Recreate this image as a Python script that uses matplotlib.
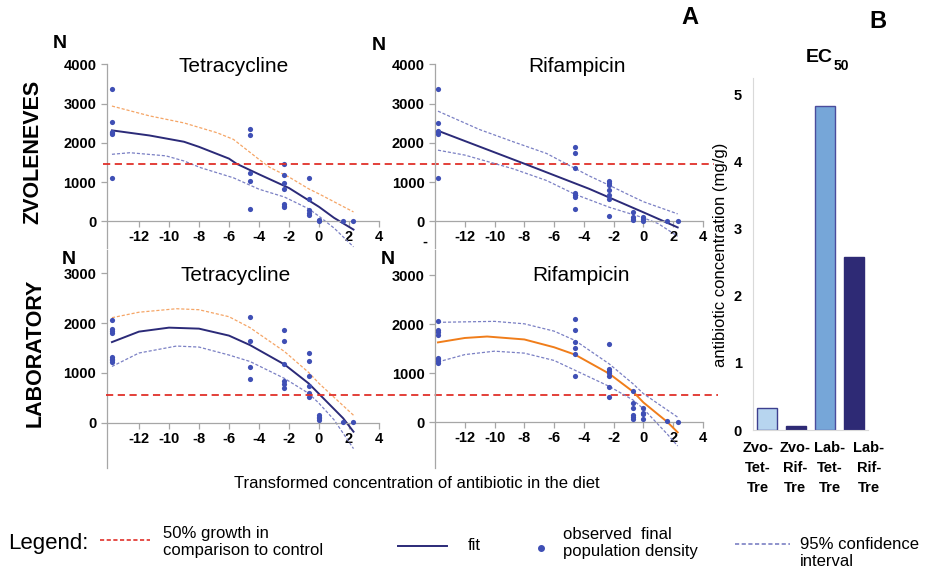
import numpy as np
import matplotlib
matplotlib.use('Agg')
import matplotlib.pyplot as plt
import matplotlib.transforms as mtransforms
from matplotlib.lines import Line2D

plt.rcParams['font.family'] = ['Liberation Sans', 'DejaVu Sans']

W, H = 925, 573

# ln-transformed antibiotic concentrations (control plotted at -13.8)
conc = [-13.8, -4.6, -2.3, -0.69, 0, 1.61, 2.3]

# --- Zvoleneves, tetracycline ---
zvo_tet_obs = [[3380, 2530, 2290, 2250, 2220, 1110],
               [2360, 2200, 1240, 1020, 320],
               [1450, 1190, 990, 830, 430, 390, 360],
               [1110, 570, 290, 220, 170],
               [30, 0], [0], [0]]
zvo_tet_fit_x = [-13.8, -11.3, -9, -8, -6, -5.5, -4, -2, 0, 1, 2.3]
zvo_tet_fit_y = [2320, 2190, 2030, 1900, 1600, 1470, 1200, 850, 370, 90, -210]
zvo_tet_up_x = [-13.8, -11.3, -9, -6.8, -5.7, -4, -3.3, -2, -0.69, 0, 2.3]
zvo_tet_up_y = [2940, 2690, 2510, 2260, 2090, 1580, 1380, 1130, 830, 700, 240]
zvo_tet_lo_x = [-13.8, -12.6, -10.2, -9, -7.9, -5.7, -4, -2.3, -0.69, 0, 1, 2.3]
zvo_tet_lo_y = [1710, 1750, 1670, 1540, 1370, 1110, 820, 620, 320, 130, -170, -650]

# --- Zvoleneves, rifampicin ---
zvo_rif_obs = [[3370, 2520, 2300, 2270, 2220, 1100],
               [1890, 1750, 1360, 720, 670, 620, 320],
               [1030, 970, 920, 800, 670, 580, 130],
               [240, 100, 60, 30],
               [100, 50, 20], [0], [0]]
zvo_rif_fit_x = [-13.8, -8, -3.65, 0, 2.3]
zvo_rif_fit_y = [2310, 1470, 830, 230, -155]
zvo_rif_up_x = [-13.8, -11, -8.75, -6.5, -3.65, -2.3, -1, 0, 2.3]
zvo_rif_up_y = [2810, 2340, 2030, 1730, 1160, 920, 680, 500, 190]
zvo_rif_lo_x = [-13.8, -12, -8.75, -6.5, -4.6, -2.3, 0, 1, 2.3]
zvo_rif_lo_y = [1815, 1690, 1340, 1040, 690, 360, 90, -60, -380]

# --- Laboratory, tetracycline ---
lab_tet_obs = [[2070, 1890, 1840, 1810, 1320, 1290, 1260, 1220],
               [2120, 1640, 1110, 870],
               [1870, 1640, 1170, 830, 780, 700],
               [1400, 1230, 940, 730, 590, 520],
               [150, 120, 90, 50], [20], [10]]
lab_tet_fit_x = [-13.8, -12, -10, -8, -6, -4.6, -2.3, -0.69, 0, 1.61, 2.3]
lab_tet_fit_y = [1620, 1830, 1910, 1890, 1750, 1560, 1170, 790, 580, 90, -180]
lab_tet_up_x = [-13.8, -12, -9.5, -8, -6, -4.6, -2.3, -0.69, 0, 2.3]
lab_tet_up_y = [2110, 2220, 2290, 2270, 2130, 1910, 1430, 1010, 790, 150]
lab_tet_lo_x = [-13.8, -12, -9.5, -8, -6, -4.6, -2.3, -0.69, 0, 1, 2.3]
lab_tet_lo_y = [1130, 1400, 1540, 1520, 1360, 1230, 890, 590, 390, 60, -520]

# --- Laboratory, rifampicin ---
lab_rif_obs = [[2060, 1880, 1840, 1790, 1320, 1280, 1250, 1210],
               [2100, 1880, 1640, 1510, 1390, 940],
               [1590, 1090, 1050, 1010, 940, 720, 510],
               [640, 380, 290, 150, 100, 60],
               [290, 190, 160, 70], [20], [10]]
lab_rif_fit_x = [-13.8, -12, -10.5, -8, -6, -4.6, -2.3, -0.69, 0, 1.61, 2.3]
lab_rif_fit_y = [1630, 1720, 1750, 1690, 1530, 1380, 990, 620, 400, 0, -210]
lab_rif_up_x = [-13.8, -12, -10, -8, -6, -4.6, -2.3, -0.69, 0, 2.3]
lab_rif_up_y = [2040, 2050, 2060, 2010, 1860, 1670, 1190, 780, 580, 100]
lab_rif_lo_x = [-13.8, -12, -10, -8, -6, -4.6, -2.3, -0.69, 0, 1.61, 2.3]
lab_rif_lo_y = [1230, 1380, 1450, 1410, 1260, 1060, 730, 450, 270, -250, -490]

# 50% growth thresholds
zvo_half = 1470
lab_half = 565

# EC50 bars
ec50_labels = ['Zvo-\nTet-\nTre', 'Zvo-\nRif-\nTre', 'Lab-\nTet-\nTre', 'Lab-\nRif-\nTre']
ec50_values = [0.33, 0.06, 4.83, 2.58]

NAVY = '#2b2a78'
DOT = '#3f4fb5'
ORANGE = '#f07d1a'
ORANGE_CI = '#f5a566'
BLUE_CI = '#7b80c4'
RED = '#e0302a'
GRAY = '#a6a6a6'


def fx(x):
    return x / W


def fy(y):
    return 1 - y / H


def add_ax(left, right, top, bottom):
    return fig.add_axes([fx(left), fy(bottom), (right - left) / W, (bottom - top) / H])


def style_panel(ax, xlim, ylim, yticks):
    ax.set_xlim(xlim)
    ax.set_ylim(ylim)
    ax.patch.set_alpha(0)
    ax.spines['top'].set_visible(False)
    ax.spines['right'].set_visible(False)
    ax.spines['bottom'].set_position(('data', 0))
    for s in ['left', 'bottom']:
        ax.spines[s].set_color(GRAY)
        ax.spines[s].set_linewidth(0.9)
    xt = list(range(-12, 5, 2))
    ax.set_xticks(xt, [str(t) for t in xt], fontweight='bold', fontsize=10.5)
    ax.set_yticks(yticks, [str(t) for t in yticks], fontweight='bold', fontsize=10.5)
    ax.tick_params(color=GRAY, labelcolor='black', length=4, width=0.9)
    ax.tick_params(axis='x', pad=2.5)


def draw_panel(ax, obs, fit, up, lo, fit_color, up_color):
    xs, ys = [], []
    for c, vals in zip(conc, obs):
        xs += [c] * len(vals)
        ys += vals
    ax.plot(up[0], up[1], color=up_color, lw=0.9, dashes=(2.5, 1.5), zorder=2)
    ax.plot(lo[0], lo[1], color=BLUE_CI, lw=0.9, dashes=(2.5, 1.5), zorder=2)
    ax.plot(fit[0], fit[1], color=fit_color, lw=1.4, zorder=2)
    ax.scatter(xs, ys, s=14, color=DOT, linewidths=0, zorder=3)


fig = plt.figure(figsize=(W / 100, H / 100), dpi=100)

ax1 = add_ax(106.7, 379, 64.5, 248)
style_panel(ax1, (-14.15, 4), (-680, 4000), [0, 1000, 2000, 3000, 4000])
draw_panel(ax1, zvo_tet_obs, (zvo_tet_fit_x, zvo_tet_fit_y), (zvo_tet_up_x, zvo_tet_up_y),
           (zvo_tet_lo_x, zvo_tet_lo_y), NAVY, ORANGE_CI)

ax2 = add_ax(435, 703, 64.5, 248)
style_panel(ax2, (-14.0, 4), (-680, 4000), [0, 1000, 2000, 3000, 4000])
draw_panel(ax2, zvo_rif_obs, (zvo_rif_fit_x, zvo_rif_fit_y), (zvo_rif_up_x, zvo_rif_up_y),
           (zvo_rif_lo_x, zvo_rif_lo_y), NAVY, BLUE_CI)

ax3 = add_ax(106.7, 379, 250, 468)
style_panel(ax3, (-14.15, 4), (-910, 3470), [0, 1000, 2000, 3000])
draw_panel(ax3, lab_tet_obs, (lab_tet_fit_x, lab_tet_fit_y), (lab_tet_up_x, lab_tet_up_y),
           (lab_tet_lo_x, lab_tet_lo_y), NAVY, ORANGE_CI)

ax4 = add_ax(435, 703, 250, 468)
style_panel(ax4, (-14.0, 4), (-940, 3520), [0, 1000, 2000, 3000])
draw_panel(ax4, lab_rif_obs, (lab_rif_fit_x, lab_rif_fit_y), (lab_rif_up_x, lab_rif_up_y),
           (lab_rif_lo_x, lab_rif_lo_y), ORANGE, BLUE_CI)

# red 50% lines run across both panels of a row
for ax, yv, x0, x1 in [(ax1, zvo_half, 103, 714), (ax3, lab_half, 106, 718)]:
    tr = mtransforms.blended_transform_factory(fig.transFigure, ax.transData)
    ax.plot([fx(x0), fx(x1)], [yv, yv], transform=tr, color=RED, lw=1.3,
            dashes=(4, 2.5), clip_on=False, zorder=4)

# titles and labels
for x, y, t in [(234, 67, 'Tetracycline'), (577, 66, 'Rifampicin'),
                (236, 275, 'Tetracycline'), (581, 275, 'Rifampicin')]:
    fig.text(fx(x), fy(y), t, ha='center', va='center', fontsize=15)
for x, y in [(60, 43), (379, 45), (69, 259), (388, 260)]:
    fig.text(fx(x), fy(y), 'N', ha='center', va='center', fontsize=14, fontweight='bold')
fig.text(fx(425), fy(242), '-', ha='center', va='center', fontsize=10.5, fontweight='bold')
fig.text(fx(33), fy(152), 'ZVOLENEVES', rotation=90, ha='center', va='center',
         fontsize=15.5, fontweight='bold')
fig.text(fx(35), fy(353), 'LABORATORY', rotation=90, ha='center', va='center',
         fontsize=15.5, fontweight='bold')
fig.text(fx(417), fy(483), 'Transformed concentration of antibiotic in the diet',
         ha='center', va='center', fontsize=12)
fig.text(fx(690), fy(18), 'A', ha='center', va='center', fontsize=17, fontweight='bold')
fig.text(fx(878), fy(22), 'B', ha='center', va='center', fontsize=17, fontweight='bold')

# EC50 bar chart
axb = add_ax(753, 868, 78, 430)
xb = np.arange(len(ec50_values))
axb.bar(xb, ec50_values, width=0.7,
        color=['#b7d5ef', '#2e2a75', '#76a6d8', '#2e2a75'],
        edgecolor=['#3d3f8f', '#2e2a75', '#4a4c9c', '#2e2a75'], linewidth=1.0)
axb.set_xlim(-0.48, 3.48)
axb.set_ylim(0, 5.25)
axb.patch.set_alpha(0)
axb.spines['top'].set_visible(False)
axb.spines['right'].set_visible(False)
for s in ['left', 'bottom']:
    axb.spines[s].set_color('#d9d9d9')
axb.set_yticks(range(6), [str(v) for v in range(6)], fontweight='bold', fontsize=10.5)
axb.set_xticks(xb, ec50_labels, fontweight='bold', fontsize=10.5, linespacing=1.55)
axb.tick_params(axis='y', length=0, pad=8)
axb.tick_params(axis='x', length=0, pad=8)
for lab, dx in zip(axb.get_xticklabels(), [-9, -1, 5, 15]):
    lab.set_transform(lab.get_transform() + mtransforms.ScaledTranslation(dx / 100, 0, fig.dpi_scale_trans))
fig.text(fx(720), fy(255), 'antibiotic concentration (mg/g)', rotation=90,
         ha='center', va='center', fontsize=12)
fig.text(fx(833), fy(58), 'EC', ha='right', va='center', fontsize=14, fontweight='bold')
fig.text(fx(834), fy(66), '50', ha='left', va='center', fontsize=10, fontweight='bold')

# legend row
fig.text(fx(8), fy(543), 'Legend:', ha='left', va='center', fontsize=16)
fig.add_artist(Line2D([fx(100), fx(150)], [fy(540), fy(540)], color=RED, lw=1.2, dashes=(2.5, 1.5)))
fig.text(fx(163), fy(542), '50% growth in\ncomparison to control', ha='left', va='center', fontsize=12)
fig.add_artist(Line2D([fx(398), fx(447)], [fy(546), fy(546)], color=NAVY, lw=1.4))
fig.text(fx(468), fy(546), 'fit', ha='left', va='center', fontsize=12)
fig.add_artist(Line2D([fx(541)], [fy(548)], marker='o', markersize=4, color=DOT, lw=0))
fig.text(fx(563), fy(543), 'observed  final\npopulation density', ha='left', va='center', fontsize=12)
fig.add_artist(Line2D([fx(735), fx(790)], [fy(544), fy(544)], color=BLUE_CI, lw=1.2, dashes=(2.5, 1.5)))
fig.text(fx(800), fy(553), '95% confidence\ninterval', ha='left', va='center', fontsize=12)

fig.savefig('out.png', dpi=100)
